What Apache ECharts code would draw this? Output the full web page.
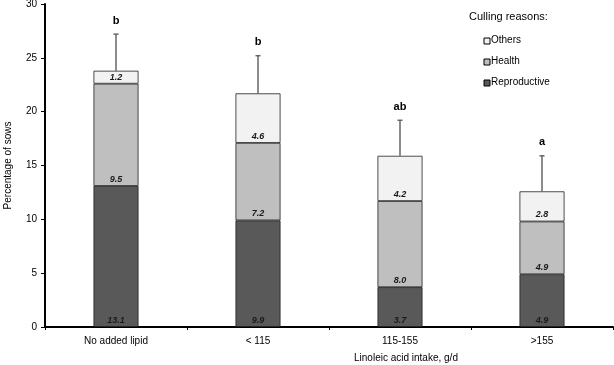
<!DOCTYPE html>
<html>
<head>
<meta charset="utf-8">
<script src="https://cdn.jsdelivr.net/npm/echarts@6/dist/echarts.min.js"></script>
<style>
  html, body { margin: 0; padding: 0; background: #fff; }
  #chart { width: 614px; height: 365px; }
</style>
</head>
<body>
<div id="chart"></div>
<script>
var categories = ['No added lipid', '< 115', '115-155', '>155'];
var reproductive = [13.1, 9.9, 3.7, 4.9];
var health = [9.5, 7.2, 8.0, 4.9];
var others = [1.2, 4.6, 4.2, 2.8];
var errorSd = [3.4, 3.5, 3.3, 3.3];
var letters = ['b', 'b', 'ab', 'a'];
var yTicks = [0, 5, 10, 15, 20, 25, 30];

var font = 'Arial, "Liberation Sans", sans-serif';
var chart = echarts.init(document.getElementById('chart'));

var totals = reproductive.map(function (v, i) {
    return v + health[i] + others[i];
});

function segLabel(color) {
    return {
        show: true,
        position: 'insideBottom',
        distance: 2,
        fontFamily: font,
        fontSize: 9,
        fontStyle: 'italic',
        fontWeight: 'bold',
        color: color,
        formatter: function (p) { return p.value.toFixed(1); }
    };
}

var option = {
    animation: false,
    textStyle: { fontFamily: font },
    grid: { left: 45, right: 1, top: 4, bottom: 38, containLabel: false, outerBoundsMode: 'none' },
    graphic: [
        { type: 'text', left: 469, top: 11, style: { text: 'Culling reasons:', font: '11px ' + font, fill: '#000' } },
        { type: 'rect', shape: { x: 484, y: 38, width: 6, height: 6 }, style: { fill: '#f2f2f2', stroke: '#000', lineWidth: 1 } },
        { type: 'text', left: 491, top: 35, style: { text: 'Others', font: '10px ' + font, fill: '#000' } },
        { type: 'rect', shape: { x: 484, y: 59, width: 6, height: 6 }, style: { fill: '#bfbfbf', stroke: '#000', lineWidth: 1 } },
        { type: 'text', left: 491, top: 56, style: { text: 'Health', font: '10px ' + font, fill: '#000' } },
        { type: 'rect', shape: { x: 484, y: 80, width: 6, height: 6 }, style: { fill: '#595959', stroke: '#000', lineWidth: 1 } },
        { type: 'text', left: 491, top: 77, style: { text: 'Reproductive', font: '10px ' + font, fill: '#000' } },
        { type: 'text', left: 354, top: 353, style: { text: 'Linoleic acid intake, g/d', font: '10px ' + font, fill: '#000' } }
    ],
    xAxis: {
        type: 'category',
        data: categories,
        axisLine: { lineStyle: { color: '#000', width: 2 } },
        axisTick: { show: true, length: 3, lineStyle: { color: '#000' } },
        axisLabel: { fontSize: 10, color: '#000', margin: 9 },
        splitLine: { show: false }
    },
    yAxis: {
        type: 'value',
        min: yTicks[0],
        max: yTicks[yTicks.length - 1],
        interval: 5,
        name: 'Percentage of sows',
        nameLocation: 'middle',
        nameGap: 32,
        nameTextStyle: { fontSize: 10, color: '#000' },
        axisLine: { show: true, lineStyle: { color: '#000', width: 2 } },
        axisTick: { show: true, length: 4, lineStyle: { color: '#000' } },
        axisLabel: { fontSize: 10, color: '#000', margin: 8 },
        splitLine: { show: false }
    },
    series: [
        {
            name: 'Reproductive', type: 'bar', stack: 'total', barWidth: 45, data: reproductive,
            itemStyle: { color: '#595959', borderColor: '#222', borderWidth: 0.8 },
            label: segLabel('#1a1a1a')
        },
        {
            name: 'Health', type: 'bar', stack: 'total', barWidth: 45, data: health,
            itemStyle: { color: '#bfbfbf', borderColor: '#222', borderWidth: 0.8 },
            label: segLabel('#1a1a1a')
        },
        {
            name: 'Others', type: 'bar', stack: 'total', barWidth: 45, data: others,
            itemStyle: { color: '#f2f2f2', borderColor: '#222', borderWidth: 0.8 },
            label: segLabel('#1a1a1a')
        },
        {
            name: 'Error', type: 'custom', z: 1,
            data: totals.map(function (t, i) { return [i, t, t + errorSd[i]]; }),
            renderItem: function (params, api) {
                var base = api.coord([api.value(0), api.value(1)]);
                var top = api.coord([api.value(0), api.value(2)]);
                var i = params.dataIndex;
                return {
                    type: 'group',
                    children: [
                        { type: 'line', shape: { x1: base[0], y1: base[1], x2: top[0], y2: top[1] }, style: { stroke: '#666', lineWidth: 1.5 } },
                        { type: 'line', shape: { x1: top[0] - 2.5, y1: top[1], x2: top[0] + 2.5, y2: top[1] }, style: { stroke: '#666', lineWidth: 1.5 } },
                        { type: 'text', x: top[0], y: top[1] - 8, style: { text: letters[i], font: 'bold 11px ' + font, fill: '#000', align: 'center', verticalAlign: 'bottom' } }
                    ]
                };
            }
        }
    ]
};
chart.setOption(option);
</script>
</body>
</html>
